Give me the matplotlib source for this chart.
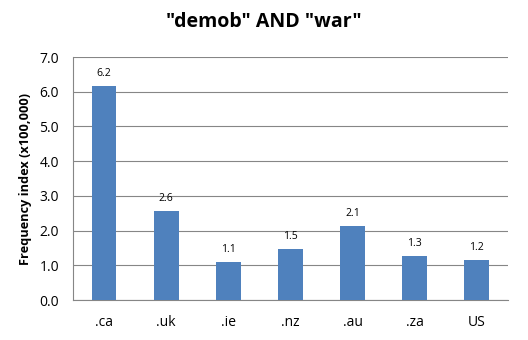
import matplotlib.pyplot as plt

# Chart data
categories = [".ca", ".uk", ".ie", ".nz", ".au", ".za", "US"]
values = [6.17, 2.57, 1.09, 1.46, 2.13, 1.26, 1.16]

plt.rcParams['font.family'] = ['Open Sans', 'DejaVu Sans']

fig = plt.figure(figsize=(5.28, 3.4), dpi=100)
ax = fig.add_axes([0.138, 0.1176, 0.824, 0.7147])

x = range(len(categories))
bars = ax.bar(x, values, width=0.4, color="#4F81BD", zorder=3)

for b, v in zip(bars, values):
    ax.text(b.get_x() + b.get_width() / 2, v + 0.2, f"{v:.1f}",
            ha="center", va="bottom", fontsize=7.5)

ax.set_xlim(-0.5, len(categories) - 0.5)
ax.set_ylim(0, 7)
ax.set_yticks([i for i in range(8)])
ax.set_yticklabels([f"{i:.1f}" for i in range(8)], fontsize=10)
ax.set_xticks(list(x))
ax.set_xticklabels(categories, fontsize=10)
ax.tick_params(length=0, pad=10)
ax.tick_params(axis="x", pad=11)

ax.grid(axis="y", color="#868686", linewidth=0.8, zorder=0)
for s in ["top", "right"]:
    ax.spines[s].set_visible(False)
for s in ["left", "bottom"]:
    ax.spines[s].set_color("#868686")
    ax.spines[s].set_linewidth(0.8)

ax.set_ylabel("Frequency index (x100,000)", fontsize=9.2, fontweight="bold", labelpad=5)
fig.suptitle('"demob" AND "war"', fontsize=14, fontweight="bold", y=0.965)

fig.savefig("out.png", dpi=100)
